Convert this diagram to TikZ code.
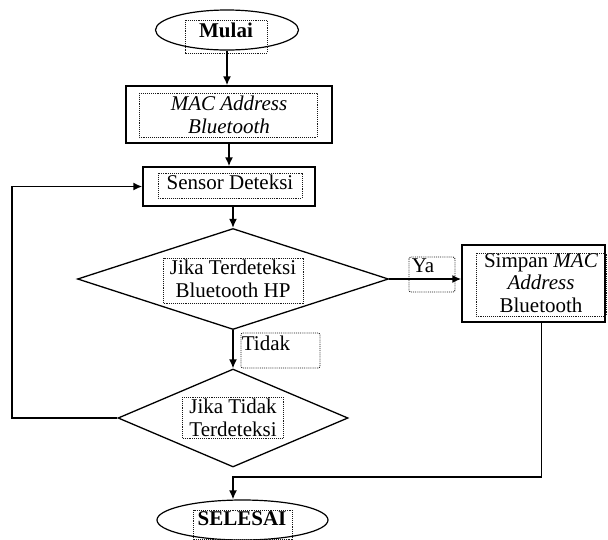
\documentclass[tikz,border=0pt]{standalone}
\usepackage{fontspec}
\setmainfont{Liberation Serif}
\usetikzlibrary{shapes.geometric,arrows.meta}
\tikzstyle{term}=[ellipse, draw, line width=1.2pt, inner sep=0pt, minimum height=40pt]
\tikzstyle{proc}=[rectangle, draw, line width=1.5pt, inner sep=0pt]
\tikzstyle{cek}=[diamond, draw, line width=1.3pt, inner sep=0pt]
\tikzstyle{txt}=[inner sep=0pt, align=center, font=\fontsize{21}{22.5}\selectfont]
\tikzstyle{frame}=[densely dotted, line width=0.9pt, black!90]
\tikzstyle{arr}=[line width=1.5pt, -{Latex[length=9pt,width=8pt]}]

\begin{document}
\begin{tikzpicture}[x=1pt, y=-1pt]
\useasboundingbox (0,0) rectangle (608,539);

% bentuk utama
\node[term, minimum width=143pt] (mulai) at (227,30) {};
\node[proc, minimum width=206pt, minimum height=57pt] (mac) at (229,114.5) {};
\node[proc, minimum width=172pt, minimum height=39pt] (sensor) at (229,186.5) {};
\node[cek, minimum width=311pt, minimum height=101pt] (cek1) at (233,279) {};
\node[proc, minimum width=143pt, minimum height=77pt] (simpan) at (533.5,283.5) {};
\node[cek, minimum width=230pt, minimum height=98pt] (cek2) at (233,418) {};
\node[term, minimum width=171pt] (selesai) at (242.5,520) {};

% teks
\node[txt] (tmulai) at (226,30) {\textbf{Mulai}};
\node[txt] (tmac) at (229,115) {\textit{MAC Address}\\\textit{Bluetooth}};
\node[txt] (tsensor) at (230,182) {Sensor Deteksi};
\node[txt] (tcek1) at (233,279) {Jika Terdeteksi\\Bluetooth HP};
\node[txt] (tya) at (423,266) {Ya};
\node[txt] (tsimpan) at (541,283) {Simpan \textit{MAC}\\\textit{Address}\\Bluetooth};
\node[txt] (ttidak) at (266,343) {Tidak};
\node[txt] (tcek2) at (233,418) {Jika Tidak\\Terdeteksi};
\node[txt] (tselesai) at (242,519) {\textbf{SELESAI}};

% kotak teks bertitik
\draw[frame] (185,20) rectangle (267,53);
\draw[frame] (139,93) rectangle (317,137);
\draw[frame] (158,173) rectangle (302,198);
\draw[frame] (163,258) rectangle (303,303);
\draw[frame, rounded corners=2pt] (409,257) rectangle (455,292);
\draw[frame] (476,253) rectangle (606,316);
\draw[frame, rounded corners=2pt] (241,333) rectangle (320,368);
\draw[frame] (182,397) rectangle (283,438);
\draw[frame] (193,510) rectangle (292,539);

% garis alir
\coordinate (loop) at (12,0);
\coordinate (join) at (233,477);
\draw[arr] (mulai.south) -- (mulai.south |- mac.north);
\draw[arr] (mac.south) -- (mac.south |- sensor.north);
\draw[arr] (sensor.south -| cek1.north) -- (cek1.north);
\draw[arr] (cek1.east) -- (cek1.east -| simpan.west);
\draw[arr] (cek1.south) -- (cek2.north);
\draw[arr] (cek2.west) -- (cek2.west -| loop) |- (sensor.west);
\draw[arr] ([xshift=8pt]simpan.south) |- (join) -- (join |- selesai.north);

\end{tikzpicture}
\end{document}
